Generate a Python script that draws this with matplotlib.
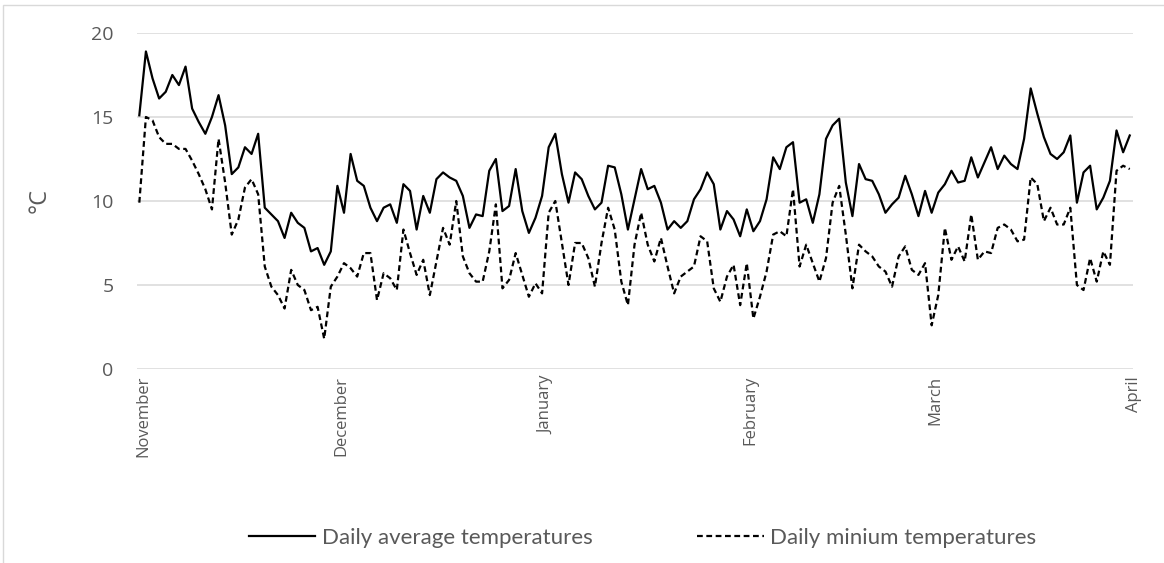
import matplotlib
matplotlib.use("Agg")
import matplotlib.pyplot as plt
import matplotlib.transforms as mtransforms
import numpy as np
from matplotlib.patches import Rectangle

# daily values, 1 Nov .. 31 Mar
avg_temp = [
    15.1, 18.9, 17.3, 16.1, 16.5, 17.5, 16.9, 18.0, 15.5, 14.7,
    14.0, 15.0, 16.3, 14.5, 11.6, 12.0, 13.2, 12.8, 14.0, 9.6,
    9.2, 8.8, 7.8, 9.3, 8.7, 8.4, 7.0, 7.2, 6.2, 7.0,
    10.9, 9.3, 12.8, 11.2, 10.9, 9.6, 8.8, 9.6, 9.8, 8.7,
    11.0, 10.6, 8.3, 10.3, 9.3, 11.3, 11.7, 11.4, 11.2, 10.3,
    8.4, 9.2, 9.1, 11.8, 12.5, 9.4, 9.7, 11.9, 9.4, 8.1,
    9.0, 10.3, 13.2, 14.0, 11.6, 9.9, 11.7, 11.3, 10.3, 9.5,
    9.9, 12.1, 12.0, 10.4, 8.3, 10.1, 11.9, 10.7, 10.9, 9.9,
    8.3, 8.8, 8.4, 8.8, 10.1, 10.7, 11.7, 11.0, 8.3, 9.4,
    8.9, 7.9, 9.5, 8.2, 8.8, 10.1, 12.6, 11.9, 13.2, 13.5,
    9.9, 10.1, 8.7, 10.4, 13.7, 14.5, 14.9, 11.1, 9.1, 12.2,
    11.3, 11.2, 10.4, 9.3, 9.8, 10.2, 11.5, 10.4, 9.1, 10.6,
    9.3, 10.5, 11.0, 11.8, 11.1, 11.2, 12.6, 11.4, 12.3, 13.2,
    11.9, 12.7, 12.2, 11.9, 13.7, 16.7, 15.2, 13.8, 12.8, 12.5,
    12.9, 13.9, 9.9, 11.7, 12.1, 9.5, 10.2, 11.2, 14.2, 12.9,
    13.9,
]
min_temp = [
    9.9, 15.0, 14.8, 13.8, 13.4, 13.4, 13.1, 13.1, 12.4, 11.6,
    10.7, 9.5, 13.7, 11.1, 8.0, 8.9, 10.8, 11.3, 10.4, 6.1,
    4.9, 4.4, 3.6, 5.9, 5.0, 4.7, 3.5, 3.7, 1.8, 4.9,
    5.5, 6.3, 6.0, 5.5, 6.9, 6.9, 4.1, 5.7, 5.4, 4.7,
    8.3, 6.9, 5.6, 6.5, 4.4, 6.4, 8.4, 7.4, 10.0, 6.7,
    5.7, 5.2, 5.2, 7.0, 9.8, 4.8, 5.3, 6.9, 5.6, 4.3,
    5.1, 4.5, 9.3, 10.0, 7.5, 5.0, 7.5, 7.5, 6.6, 4.9,
    7.5, 9.6, 8.3, 5.2, 3.8, 7.4, 9.3, 7.4, 6.4, 7.8,
    6.1, 4.5, 5.5, 5.8, 6.1, 7.9, 7.6, 4.8, 4.0, 5.5,
    6.2, 3.8, 6.3, 3.0, 4.3, 5.8, 8.0, 8.2, 7.9, 10.7,
    6.1, 7.4, 6.3, 5.2, 6.6, 9.9, 10.9, 8.0, 4.8, 7.4,
    7.0, 6.7, 6.1, 5.8, 4.9, 6.7, 7.3, 5.9, 5.6, 6.3,
    2.6, 4.4, 8.4, 6.5, 7.3, 6.4, 9.2, 6.5, 7.0, 6.9,
    8.4, 8.6, 8.3, 7.6, 7.7, 11.4, 11.0, 8.8, 9.6, 8.6,
    8.6, 9.6, 5.0, 4.7, 6.6, 5.2, 7.0, 6.2, 11.8, 12.1,
    11.9,
]
month_labels = ["November", "December", "January", "February", "March", "April"]
month_days = [0, 30, 61, 92, 120, 150]

days = np.arange(len(avg_temp))
grey = "#595959"

fig = plt.figure(figsize=(11.64, 5.63), dpi=100)
ax = fig.add_axes([0.1177, 0.3446, 0.9734 - 0.1177, 0.9414 - 0.3446])

ax.plot(days, avg_temp, color="black", lw=1.6, label="Daily average temperatures")
ax.plot(days, min_temp, color="black", lw=1.6, dashes=(2.6, 1.6),
        label="Daily minium temperatures")

ax.set_xlim(-0.35, 150.5)
ax.set_ylim(0, 20)
ax.set_yticks([0, 5, 10, 15, 20])
ax.set_xticks(month_days)
ax.set_xticklabels(month_labels, rotation=90, va="top", ha="center")
ax.grid(axis="y", color="#d9d9d9", lw=1.1)
ax.set_axisbelow(True)
for s in ax.spines.values():
    s.set_visible(False)
ax.tick_params(axis="both", length=0, colors=grey)
ax.tick_params(axis="y", pad=17, labelsize=14)
ax.tick_params(axis="x", pad=5, labelsize=12)
shift = mtransforms.ScaledTranslation(4 / 100, 0, fig.dpi_scale_trans)
for lab in ax.get_xticklabels():
    lab.set_fontfamily("Open Sans")
    lab.set_transform(lab.get_transform() + shift)
for lab in ax.get_yticklabels():
    lab.set_fontfamily("Open Sans")

ax.set_ylabel("°C", fontsize=17, color=grey, family="Open Sans", labelpad=28)

leg = fig.legend(loc="center", bbox_to_anchor=(0.552, 0.044), ncol=2, frameon=False,
                 prop={"family": "Lato", "size": 16}, handlelength=3.0,
                 handletextpad=0.3, columnspacing=4.7)
for t in leg.get_texts():
    t.set_color(grey)

# chart area border (only top/left visible in the crop)
fig.patches.append(Rectangle((3 / 1164, -0.1), 1.2, 1.1 - 5 / 563, transform=fig.transFigure,
                             fill=False, edgecolor="#d9d9d9", lw=1))

fig.savefig("out.png", dpi=100)
